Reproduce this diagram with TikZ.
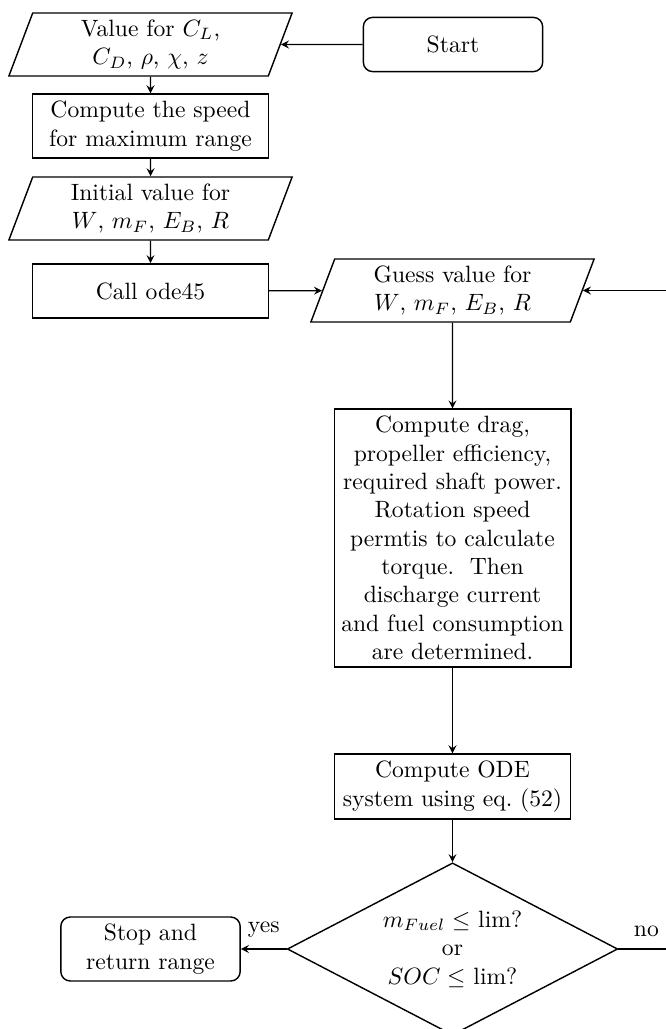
\documentclass[tikz,border=0pt]{standalone}
\usepackage{amsmath,amssymb}
\usepackage{tikz}
\usetikzlibrary{shapes,arrows,positioning,calc}

\tikzset{
  block/.style={draw, line width=0.6pt, rectangle, minimum width=100pt, minimum height=23pt, align=center, inner sep=3pt},
  io/.style={draw, line width=0.6pt, trapezium, trapezium left angle=68, trapezium right angle=112, trapezium stretches body, minimum width=120pt, minimum height=26.7pt, align=center, inner sep=2pt},
  term/.style={draw, line width=0.6pt, rounded corners=4pt, minimum width=76pt, minimum height=23pt, align=center, inner sep=3pt},
  decision/.style={draw, line width=0.6pt, diamond, aspect=1.9, minimum width=140pt, minimum height=73pt, align=center, inner sep=0pt},
  line/.style={draw, line width=0.5pt, -stealth}
}

\begin{document}
\begin{tikzpicture}[x=0.4237pt, y=-0.4237pt]
\useasboundingbox (0,0) rectangle (666,1029);
\clip (0,0) rectangle (666,1029);
% Input side
\node[term] (start) at (453,44.5) {Start};
\node[io] (values) at (150.5,44.5) {Value for $C_L$,\\ $C_D$, $\rho$, $\chi$, $z$};
\node[block] (speed) at (150.5,126) {Compute the speed\\ for maximum range};
\node[io] (init) at (150.5,208.5) {Initial value for\\ $W$, $m_F$, $E_B$, $R$};
\node[block] (ode) at (150.5,291) {Call ode45};
% Integration loop
\node[io] (guess) at (452.5,290.5) {Guess value for\\ $W$, $m_F$, $E_B$, $R$};
\node[block] (compute) at (452.5,538) {Compute drag,\\ propeller efficiency,\\ required shaft power.\\ Rotation speed\\ permtis to calculate\\ torque.\ \ Then\\ discharge current\\ and fuel consumption\\ are determined.};
\node[block] (odesys) at (452.5,786.5) {Compute ODE\\ system using eq.~(52)};
\node[decision] (check) at (452.5,949) {$m_{Fuel} \leq$ lim?\\ or\\ $SOC \leq$ lim?};
\node[term] (stop) at (150.5,949) {Stop and\\ return range};
% Connectors
\draw[line] (start) -- (values);
\draw[line] (values) -- (speed);
\draw[line] (speed) -- (init);
\draw[line] (init) -- (ode);
\draw[line] (ode) -- (guess);
\draw[line] (guess) -- (compute);
\draw[line] (compute) -- (odesys);
\draw[line] (odesys) -- (check);
\draw[line] (check) -- node[above=1.5pt] {yes} (stop);
\draw[line] (check.east) -- node[above=1.5pt] {no} ++(56,0) |- (guess.east);
\end{tikzpicture}
\end{document}
